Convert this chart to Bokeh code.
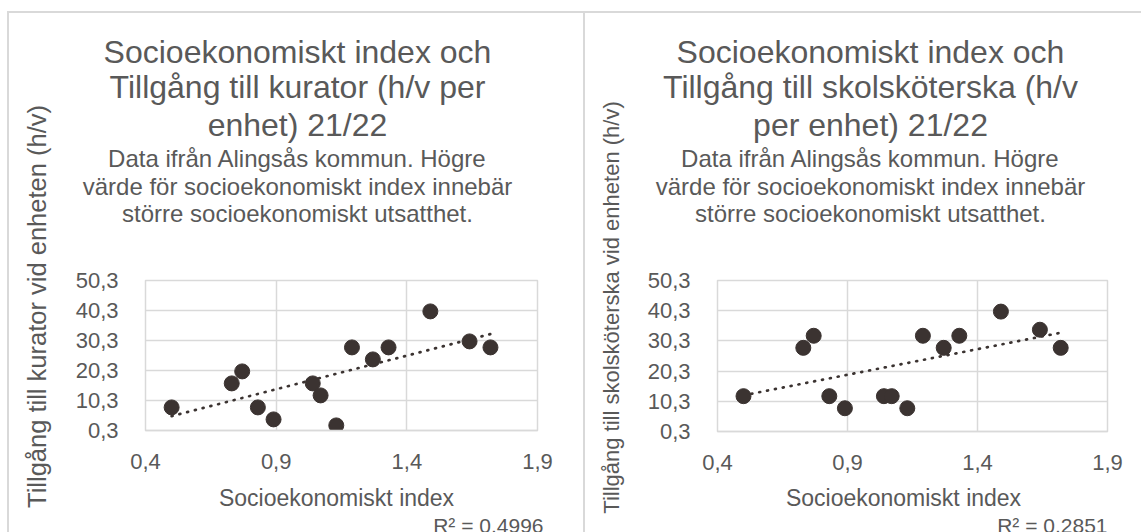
import numpy as np
from bokeh.plotting import figure
from bokeh.models import Range1d, FixedTicker, Label, ColumnDataSource, Div
from bokeh.layouts import row, column
from bokeh.embed import file_html
from bokeh.resources import INLINE

# ---- data ----
socio_index = [0.50, 0.73, 0.77, 0.83, 0.89, 1.04, 1.07, 1.13, 1.19, 1.27, 1.33, 1.49, 1.64, 1.72]
kurator_hv = [8, 16, 20, 8, 4, 16, 12, 2, 28, 24, 28, 40, 30, 28]
skolskoterska_hv = [12, 28, 32, 12, 8, 12, 12, 8, 32, 28, 32, 40, 34, 28]

x_ticks = [0.4, 0.9, 1.4, 1.9]
x_tick_labels = ["0,4", "0,9", "1,4", "1,9"]
y_ticks = [0.3, 10.3, 20.3, 30.3, 40.3, 50.3]
y_tick_labels = ["0,3", "10,3", "20,3", "30,3", "40,3", "50,3"]

title_left = ["Socioekonomiskt index och", "Tillgång till kurator (h/v per", "enhet) 21/22"]
title_right = ["Socioekonomiskt index och", "Tillgång till skolsköterska (h/v", "per enhet) 21/22"]
subtitle = ["Data ifrån Alingsås kommun. Högre",
            "värde för socioekonomiskt index innebär",
            "större socioekonomiskt utsatthet."]
x_title = "Socioekonomiskt index"
y_title_left = "Tillgång till kurator vid enheten (h/v)"
y_title_right = "Tillgång till skolsköterska vid enheten (h/v)"
r2_left = "R² = 0.4996"
r2_right = "R² = 0.2851"

FONT = "Liberation Sans"
TXT = "#595959"
GRID = "#d9d9d9"
DOT = "#3b3331"


def text_fig(w, h):
    p = figure(width=w, height=h, output_backend="svg", toolbar_location=None,
               x_range=Range1d(0, w), y_range=Range1d(0, h),
               x_axis_location=None, y_axis_location=None, min_border=0,
               outline_line_color=None, background_fill_color="white",
               border_fill_color="white")
    p.margin = (0, 0, 0, 0)
    p.frame_align = False
    p.grid.visible = False
    return p


def lab(p, h, x, y_top, text, size, align="center", baseline="alphabetic", angle=0):
    # x from the left of the figure, y_top measured down from its top edge
    p.add_layout(Label(x=x, y=h - y_top, x_units="screen", y_units="screen", text=text,
                       text_font=FONT, text_font_size=size, text_color=TXT,
                       text_align=align, text_baseline=baseline, angle=angle))


def chart_fig(yvals, width, mb_left, mb_right, frame_h):
    mb_top = 35
    h = 233
    p = figure(width=width, height=h, output_backend="svg", toolbar_location=None,
               x_range=Range1d(0.4, 1.9), y_range=Range1d(0.3, 50.3),
               min_border_left=mb_left, min_border_right=mb_right,
               min_border_top=mb_top, min_border_bottom=h - mb_top - frame_h,
               background_fill_color="white", border_fill_color="white")
    p.margin = (0, 0, 0, 0)
    p.frame_align = False
    p.outline_line_color = GRID
    p.outline_line_width = 1.5

    p.xaxis.ticker = FixedTicker(ticks=x_ticks)
    p.xaxis.major_label_overrides = dict(zip(x_ticks, x_tick_labels))
    p.yaxis.ticker = FixedTicker(ticks=y_ticks)
    p.yaxis.major_label_overrides = dict(zip(y_ticks, y_tick_labels))
    for ax in (p.xaxis, p.yaxis):
        ax.major_tick_line_color = None
        ax.minor_tick_line_color = None
        ax.major_label_text_font = FONT
        ax.major_label_text_font_size = "22px"
        ax.major_label_text_color = TXT
    p.xaxis.axis_line_color = GRID
    p.xaxis.axis_line_width = 1.5
    p.yaxis.axis_line_color = None
    p.xaxis.major_label_standoff = 17
    p.yaxis.major_label_standoff = 21
    p.xgrid.ticker = FixedTicker(ticks=x_ticks)
    p.ygrid.ticker = FixedTicker(ticks=y_ticks)
    p.grid.grid_line_color = GRID
    p.grid.grid_line_width = 1.5

    # linear trendline (least squares of the data)
    xs = np.array(socio_index, dtype=float)
    ys = np.array(yvals, dtype=float)
    k, m = np.polyfit(xs, ys, 1)
    tx = [float(xs.min()), float(xs.max())]
    p.line(x=tx, y=[float(k * t + m) for t in tx], line_color=DOT, line_width=2.7,
           line_dash="1 7", line_cap="round")

    src = ColumnDataSource(dict(x=socio_index, y=yvals))
    p.scatter(x="x", y="y", source=src, size=15, fill_color=DOT, line_color=DOT)
    return p


def build(yvals, title_lines, ytitle, ytitle_size, r2, strip_w, main_w,
          mb_left, mb_right, frame_h, title_cx, ytitle_x, ytitle_y, xtitle_cx, r2_right):
    strip = text_fig(strip_w, 519)
    lab(strip, 519, ytitle_x, ytitle_y, ytitle, ytitle_size, baseline="middle", angle=np.pi / 2)

    header = text_fig(main_w, 232)
    for line, yy in zip(title_lines, [38.5, 73.5, 111.5]):
        lab(header, 232, title_cx, yy, line, "32px")
    for line, yy in zip(subtitle, [145, 172.5, 200]):
        lab(header, 232, title_cx, yy, line, "24px")

    chart = chart_fig(yvals, main_w, mb_left, mb_right, frame_h)

    footer = text_fig(main_w, 54)
    lab(footer, 54, xtitle_cx, 19, x_title, "23px")
    lab(footer, 54, r2_right, 47, r2, "21px", align="right")
    return strip, column(header, chart, footer, spacing=0)


def vline(margin_left=0):
    d = Div(text="", width=2, height=519, styles={"background-color": GRID})
    d.margin = (0, 0, 0, margin_left)
    return d


strip_l, main_l = build(kurator_hv, title_left, y_title_left, "25.5px", r2_left,
                        strip_w=51, main_w=523, mb_left=85, mb_right=46, frame_h=150,
                        title_cx=237, ytitle_x=27, ytitle_y=293, xtitle_cx=276, r2_right=483)
strip_r, main_r = build(skolskoterska_hv, title_right, y_title_right, "22px", r2_right,
                        strip_w=55, main_w=501, mb_left=77, mb_right=34, frame_h=151,
                        title_cx=230, ytitle_x=26, ytitle_y=294, xtitle_cx=263, r2_right=467)

topline = Div(text="", width=1134, height=2, styles={"background-color": GRID})
topline.margin = (11, 0, 0, 7)

body = row(vline(7), strip_l, main_l, vline(0), strip_r, main_r, spacing=0)
layout = column(topline, body, spacing=0)
open("out.html", "w").write(file_html(layout, INLINE))
